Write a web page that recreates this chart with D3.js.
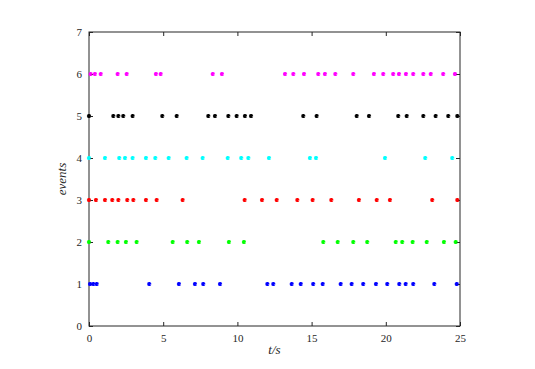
<!DOCTYPE html>
<html>
<head>
<meta charset="utf-8">
<script src="https://cdn.jsdelivr.net/npm/d3@7"></script>
<style>
  body { margin: 0; background: #fff; }
  svg text { font-family: "Liberation Serif", "Times New Roman", serif; }
</style>
</head>
<body>
<div id="chart"></div>
<script>
// event times (s) for each event channel
const events1 = [0.07, 0.29, 0.52, 4.06, 6.06, 7.14, 7.70, 8.83, 12.02, 12.42, 13.66, 14.27, 15.11, 15.75, 16.96, 17.70, 18.48, 19.34, 20.10, 20.91, 21.34, 21.85, 23.27, 24.78];
const events2 = [0, 1.30, 1.93, 2.49, 3.21, 5.64, 6.62, 7.41, 9.43, 10.44, 15.79, 16.76, 17.81, 18.75, 20.67, 21.11, 21.81, 22.76, 23.92, 24.71];
const events3 = [0, 0.47, 1.08, 1.57, 1.98, 2.58, 2.99, 3.84, 4.56, 6.31, 10.49, 11.66, 12.65, 14.04, 15.07, 16.33, 18.19, 19.39, 20.28, 23.13, 24.82];
const events4 = [0, 1.08, 2.04, 2.43, 2.94, 3.84, 4.47, 5.37, 6.58, 7.66, 9.35, 10.26, 10.74, 12.13, 14.89, 15.30, 19.95, 22.66, 24.48];
const events5 = [0, 1.64, 1.98, 2.31, 2.94, 4.94, 5.91, 8.04, 8.49, 9.39, 9.95, 10.51, 10.92, 14.44, 15.34, 18.04, 18.87, 20.84, 21.41, 22.53, 23.36, 24.21, 24.82];
const events6 = [0.11, 0.40, 0.79, 1.93, 2.54, 4.51, 4.83, 8.34, 8.96, 13.21, 13.77, 14.49, 15.45, 15.90, 16.60, 17.81, 19.20, 19.83, 20.50, 20.89, 21.36, 21.85, 22.53, 23.03, 23.87, 24.66];

const series = [
  { level: 1, color: "#0000ff", times: events1 },
  { level: 2, color: "#00ff00", times: events2 },
  { level: 3, color: "#ff0000", times: events3 },
  { level: 4, color: "#00ffff", times: events4 },
  { level: 5, color: "#000000", times: events5 },
  { level: 6, color: "#ff00ff", times: events6 }
];
const xTicks = [0, 5, 10, 15, 20, 25];
const yTicks = [0, 1, 2, 3, 4, 5, 6, 7];

const width = 535, height = 369;
const margin = { top: 32, right: 75, bottom: 43, left: 89 };
const innerW = width - margin.left - margin.right;
const innerH = height - margin.top - margin.bottom;

const svg = d3.select("#chart").append("svg")
  .attr("width", width).attr("height", height);
const g = svg.append("g").attr("transform", `translate(${margin.left},${margin.top})`);

const x = d3.scaleLinear().domain([0, 25]).range([0, innerW]);
const y = d3.scaleLinear().domain([0, 7]).range([innerH, 0]);

// box
g.append("rect").attr("width", innerW).attr("height", innerH)
  .attr("fill", "none").attr("stroke", "#262626").attr("stroke-width", 1);

const fmt = d3.format("d");
// axes with inward ticks, mirrored on the top and right
g.append("g").attr("transform", `translate(0,${innerH})`)
  .call(d3.axisBottom(x).tickValues(xTicks).tickFormat(fmt).tickSizeInner(-4).tickSizeOuter(0).tickPadding(8))
  .call(a => a.select(".domain").remove());
g.append("g")
  .call(d3.axisTop(x).tickValues(xTicks).tickSizeInner(-4).tickSizeOuter(0).tickFormat(""))
  .call(a => a.select(".domain").remove());
g.append("g")
  .call(d3.axisLeft(y).tickValues(yTicks).tickFormat(fmt).tickSizeInner(-4).tickSizeOuter(0).tickPadding(7))
  .call(a => a.select(".domain").remove());
g.append("g").attr("transform", `translate(${innerW},0)`)
  .call(d3.axisRight(y).tickValues(yTicks).tickSizeInner(-4).tickSizeOuter(0).tickFormat(""))
  .call(a => a.select(".domain").remove());

g.selectAll("g").attr("font-family", "Liberation Serif, serif");
g.selectAll(".tick line").attr("stroke", "#262626");
g.selectAll(".tick text").attr("font-size", 11).attr("fill", "#262626");

// markers
const sym = d3.symbol().type(d3.symbolAsterisk).size(12);
series.forEach(s => {
  g.append("g").selectAll("path").data(s.times).join("path")
    .attr("d", sym)
    .attr("transform", d => `translate(${x(d)},${y(s.level)})`)
    .attr("fill", "none")
    .attr("stroke", s.color)
    .attr("stroke-width", 1.5);
});

// axis labels
svg.append("text")
  .attr("x", margin.left + innerW / 2).attr("y", height - 15)
  .attr("text-anchor", "middle").attr("font-size", 13).attr("font-style", "italic")
  .attr("fill", "#262626")
  .text("t/s");
svg.append("text")
  .attr("transform", `translate(66,${margin.top + innerH / 2}) rotate(-90)`)
  .attr("text-anchor", "middle").attr("font-size", 13).attr("font-style", "italic")
  .attr("fill", "#262626")
  .text("events");
</script>
</body>
</html>
